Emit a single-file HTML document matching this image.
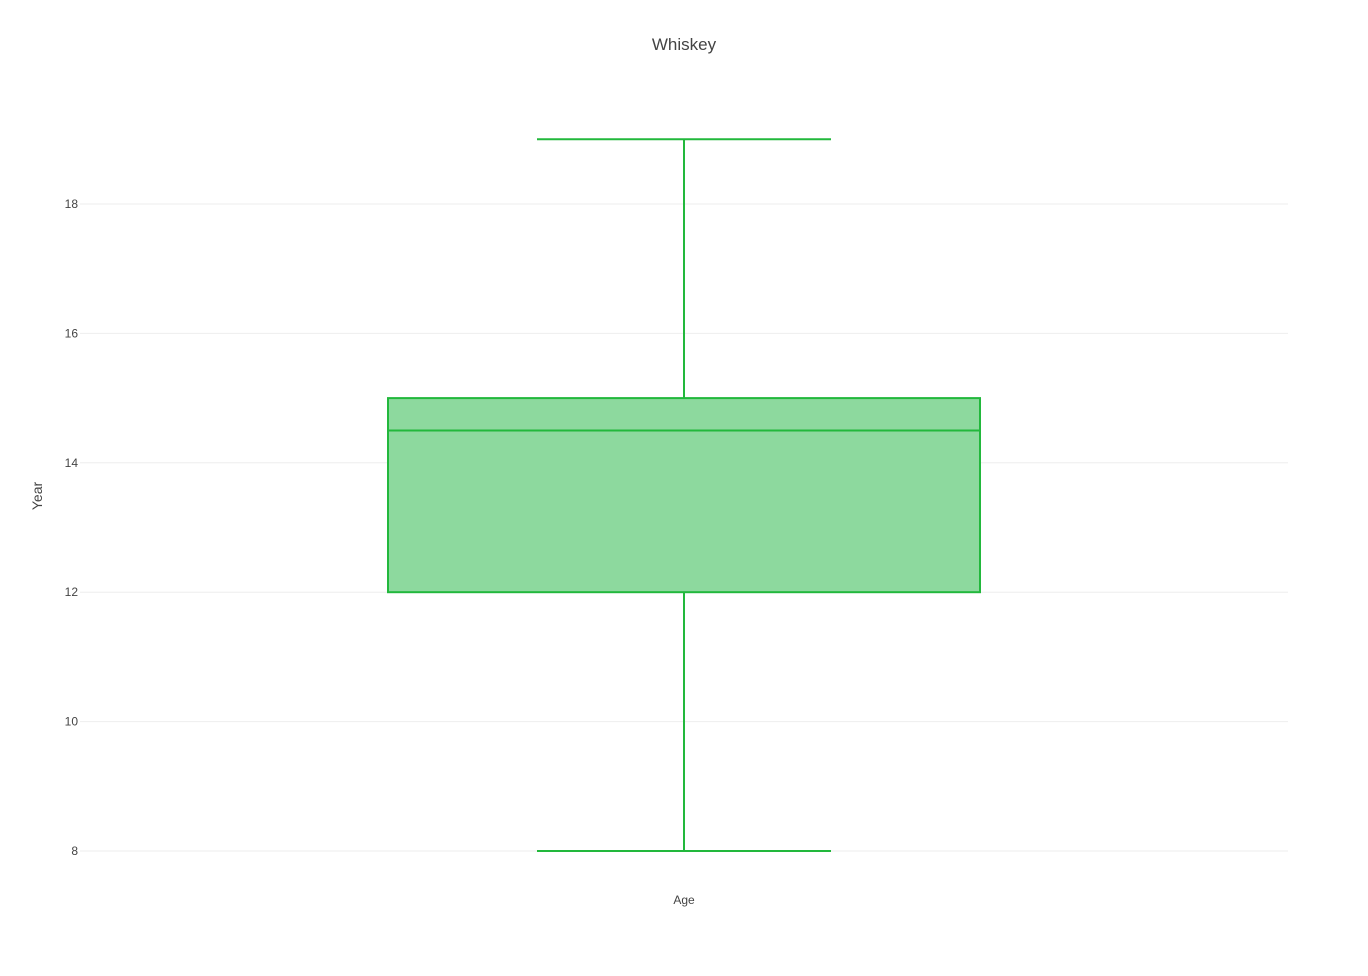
<!DOCTYPE html>
<html><head><meta charset="utf-8"><style>
body{margin:0;background:#fff;}
svg text{font-family:"Liberation Sans",sans-serif;}
</style></head><body>
<svg id="chart" width="1368" height="971">
<rect width="1368" height="971" fill="#fff"/>
<text x="684" y="50" text-anchor="middle" font-size="17" fill="#444">Whiskey</text>
<g id="grid"></g>
<g id="box"></g>
<text x="684" y="904" text-anchor="middle" font-size="12" fill="#444">Age</text>
<text transform="translate(42,496) rotate(-90)" text-anchor="middle" font-size="14" fill="#444">Year</text>
</svg>
<script>
const yTicks=[8,10,12,14,16,18];
const stats=[8,12,14.5,15,19]; // min,q1,median,q3,max
const plotLeft=80, plotRight=1288;
function y(v){return 851+(v-8)*(204-851)/10;}
const ns="http://www.w3.org/2000/svg";
const grid=document.getElementById('grid'), box=document.getElementById('box');
function mk(tag,attrs,parent){const e=document.createElementNS(ns,tag);for(const k in attrs)e.setAttribute(k,attrs[k]);parent.appendChild(e);return e;}
yTicks.forEach(t=>{
 const l=mk('line',{x1:plotLeft,x2:plotRight,y1:y(t),y2:y(t),stroke:'#eee','stroke-width':1},grid);
 
 
 const tx=mk('text',{x:78,y:y(t)+4,'text-anchor':'end','font-size':12,fill:'#444'},grid);
 tx.textContent=t;
 
 
});
const cx=684,bw=592,cw=294,col='#22b83c';
const w1=mk('line',{x1:cx,x2:cx,y1:y(stats[0]),y2:y(stats[1]),stroke:col,'stroke-width':2},box);


const w2=mk('line',{x1:cx,x2:cx,y1:y(stats[3]),y2:y(stats[4]),stroke:col,'stroke-width':2},box);


const c1=mk('line',{x1:cx-cw/2,x2:cx+cw/2,y1:y(stats[0]),y2:y(stats[0]),stroke:col,'stroke-width':2},box);


const c2=mk('line',{x1:cx-cw/2,x2:cx+cw/2,y1:y(stats[4]),y2:y(stats[4]),stroke:col,'stroke-width':2},box);


const r=mk('rect',{x:cx-bw/2,y:y(stats[3]),width:bw,height:y(stats[1])-y(stats[3]),fill:'#8dd99e',stroke:col,'stroke-width':2},box);


const m=mk('line',{x1:cx-bw/2,x2:cx+bw/2,y1:y(stats[2]),y2:y(stats[2]),stroke:col,'stroke-width':2},box);


</script>
</body></html>
